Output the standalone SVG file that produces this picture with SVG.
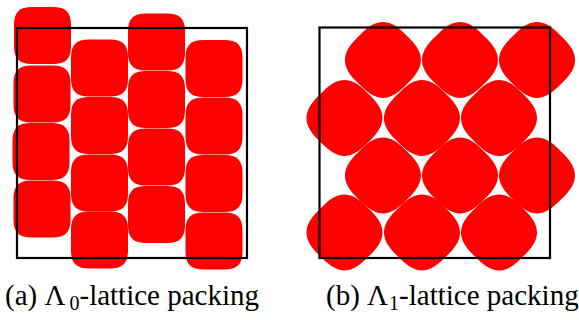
<svg xmlns="http://www.w3.org/2000/svg" width="579" height="320" viewBox="0 0 579 320">
  <style>
    .sq { fill: #ff0000; }
    .box { fill: none; stroke: #000; stroke-width: 2.2; }
    .cap { font-family: "Liberation Serif", "Times New Roman", serif; font-size: 29px; fill: #000; }
    .sub { font-size: 20px; }
  </style>
  <defs>
    <path id="sqA" d="M-10.5,-28.5 L10.5,-28.5 C23.1,-28.5 28.5,-23.1 28.5,-10.5 L28.5,10.5 C28.5,23.1 23.1,28.5 10.5,28.5 L-10.5,28.5 C-23.1,28.5 -28.5,23.1 -28.5,10.5 L-28.5,-10.5 C-28.5,-23.1 -23.1,-28.5 -10.5,-28.5 Z"/>
    <path id="sqB" transform="rotate(45)" d="M-4,-34 L4,-34 C25,-34 34,-25 34,-4 L34,4 C34,25 25,34 4,34 L-4,34 C-25,34 -34,25 -34,4 L-34,-4 C-34,-25 -25,-34 -4,-34 Z"/>
  </defs>

  <g id="panel-a">
    <g id="a-shapes" class="sq">
      <use href="#sqA" x="42.5" y="35.5"/>
      <use href="#sqA" x="42" y="94"/>
      <use href="#sqA" x="41" y="151.5"/>
      <use href="#sqA" x="42" y="209"/>
      <use href="#sqA" x="99.5" y="68"/>
      <use href="#sqA" x="99.5" y="125.5"/>
      <use href="#sqA" x="99.5" y="183"/>
      <use href="#sqA" x="99.5" y="240"/>
      <use href="#sqA" x="156.5" y="42"/>
      <use href="#sqA" x="156.5" y="99.5"/>
      <use href="#sqA" x="156.5" y="157"/>
      <use href="#sqA" x="156.5" y="214.5"/>
      <use href="#sqA" x="214" y="68.5"/>
      <use href="#sqA" x="214" y="126"/>
      <use href="#sqA" x="214" y="183.5"/>
      <use href="#sqA" x="214" y="241"/>
    </g>
    <rect class="box" x="17" y="28" width="230" height="230"/>
    <text class="cap" x="5" y="304.5">(a) Λ<tspan class="sub" dx="4" dy="5">0</tspan><tspan dy="-5">-lattice packing</tspan></text>
  </g>

  <g id="panel-b">
    <g id="b-shapes" class="sq">
      <use href="#sqB" x="383" y="60"/>
      <use href="#sqB" x="460" y="60"/>
      <use href="#sqB" x="537" y="60"/>
      <use href="#sqB" x="344.5" y="118"/>
      <use href="#sqB" x="422" y="118"/>
      <use href="#sqB" x="499" y="118"/>
      <use href="#sqB" x="383" y="175.5"/>
      <use href="#sqB" x="460" y="175.5"/>
      <use href="#sqB" x="537" y="175.5"/>
      <use href="#sqB" x="344.5" y="232.5"/>
      <use href="#sqB" x="422" y="232.5"/>
      <use href="#sqB" x="499" y="232.5"/>
    </g>
    <rect class="box" x="319.5" y="27.5" width="230.5" height="230.5"/>
    <text class="cap" x="326" y="304.5">(b) Λ<tspan class="sub" dx="1" dy="5">1</tspan><tspan dy="-5">-lattice packing</tspan></text>
  </g>
</svg>
